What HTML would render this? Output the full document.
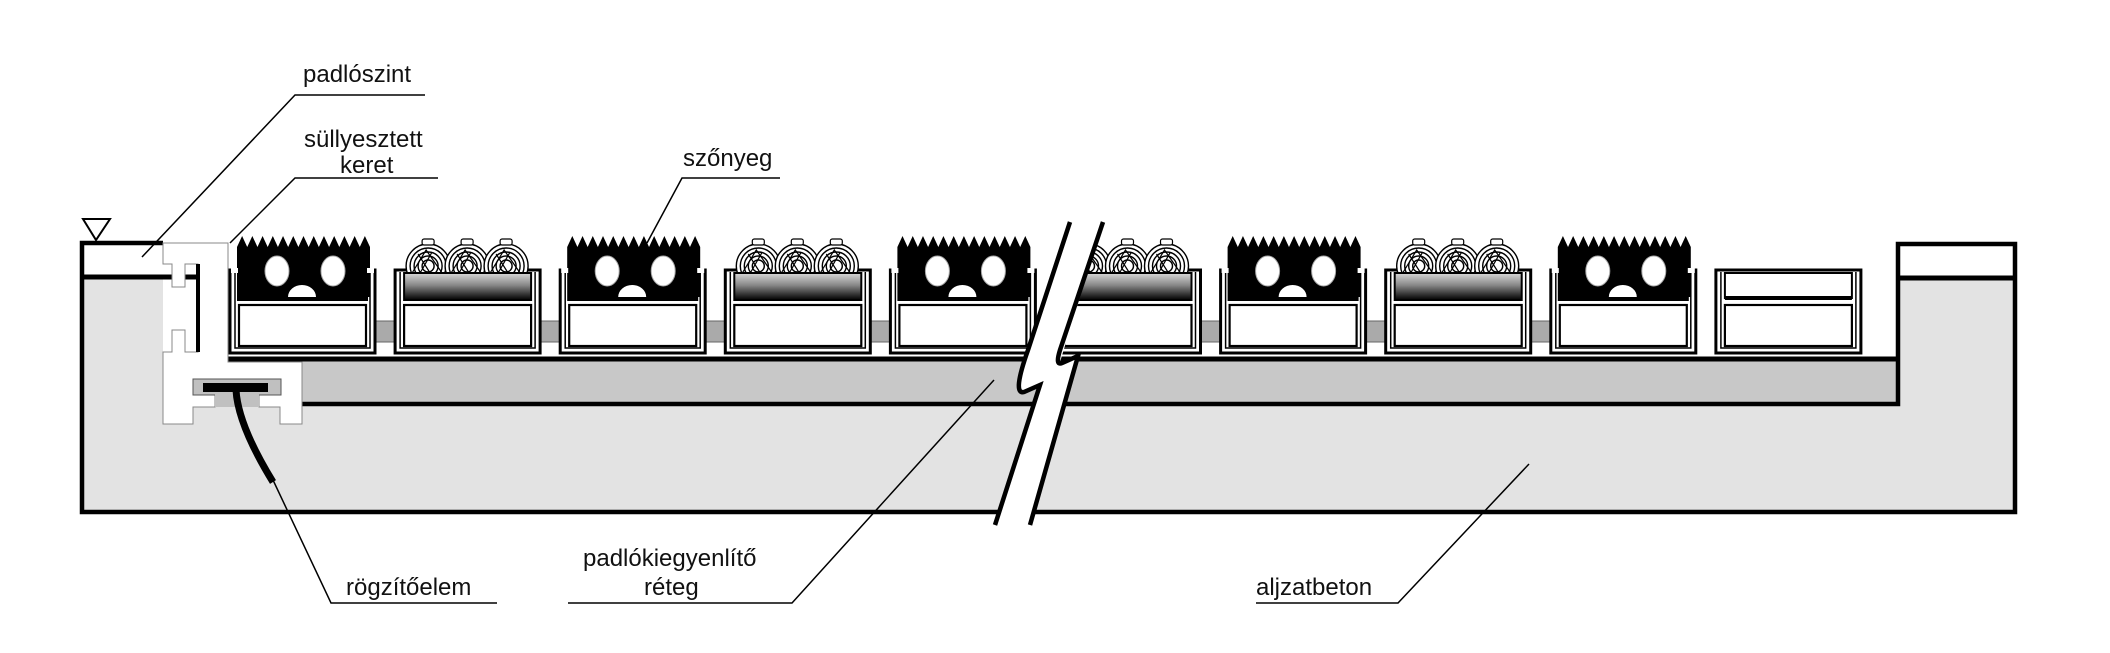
<!DOCTYPE html>
<html><head><meta charset="utf-8">
<style>
html,body{margin:0;padding:0;background:#fff;}
svg{display:block;}
text{font-family:"Liberation Sans",Arial,sans-serif;font-size:24px;fill:#111;}
</style></head>
<body>
<svg id="s" width="2110" height="653" viewBox="0 0 2110 653" xmlns="http://www.w3.org/2000/svg">
<defs>
<linearGradient id="tg" x1="0" y1="0" x2="0" y2="1">
<stop offset="0" stop-color="#d8d8d8"/><stop offset="0.45" stop-color="#888"/><stop offset="1" stop-color="#000"/>
</linearGradient>
</defs>
<path d="M82,243 H163 V360 H1898 V244 H2015 V512 H82 Z" fill="#e3e3e3"/>
<rect x="82" y="243" width="81" height="34" fill="#fff"/>
<rect x="1898" y="244" width="117" height="34" fill="#fff"/>
<rect x="228" y="358" width="1670" height="46" fill="#c8c8c8"/>
<path d="M163,243 H82 V512 H2015 V244 H1898 V404 H215" fill="none" stroke="#000" stroke-width="4.5"/>
<line x1="82" y1="277" x2="198" y2="277" stroke="#000" stroke-width="5"/>
<line x1="1898" y1="278" x2="2015" y2="278" stroke="#000" stroke-width="5"/>
<line x1="228" y1="359" x2="1898" y2="359" stroke="#000" stroke-width="5"/>
<polygon points="83,219 110,219 96,240" fill="#fff" stroke="#000" stroke-width="2"/>
<polygon points="163,243 228,243 228,362 302,362 302,424 280,424 280,407 259,407 259,395 281,395 281,379 193,379 193,395 215,395 215,407 193,407 193,424 163,424 163,352 172,352 172,330 185,330 185,352 198,352 198,264 185,264 185,287 172,287 172,264 163,264" fill="#fff" stroke="#888" stroke-width="1"/>
<rect x="193" y="379" width="88" height="16" fill="#c0c0c0" stroke="#555" stroke-width="1"/>
<rect x="215" y="394" width="44" height="13" fill="#c0c0c0"/>
<line x1="198" y1="264" x2="198" y2="352" stroke="#000" stroke-width="4"/>
<rect x="203" y="383" width="65" height="9" fill="#000"/>
<path d="M236,390 Q238,425 273,482" fill="none" stroke="#000" stroke-width="7"/>
<rect x="372" y="321" width="1180" height="21" fill="#aaa" stroke="#666" stroke-width="1"/>
<g id="tiles"></g>
<path d="M1070,222 L1028,350 Q1014,392 1022,392 L1040,385 L995,525 L1030,525 L1078,356 L1060,362 L1103,222 Z" fill="#fff"/>
<path d="M1070,222 L1028,350 Q1012,395 1024,392 L1040,385 L995,525" fill="none" stroke="#000" stroke-width="4.5"/>
<path d="M1103,222 L1060,350 Q1055,366 1062,363 L1078,356 L1030,525" fill="none" stroke="#000" stroke-width="4.5"/>
<g stroke="#000" stroke-width="1.5" fill="none">
<polyline points="142,257 295,95 425,95"/>
<polyline points="230,243 295,178 438,178"/>
<polyline points="647,243 682,178 780,178"/>
<polyline points="273,480 331,603 497,603"/>
<polyline points="994,380 792,603 568,603"/>
<polyline points="1529,464 1398,603 1256,603"/>
</g>
<text x="303" y="82">padlószint</text>
<text x="304" y="147">süllyesztett</text>
<text x="340" y="173">keret</text>
<text x="683" y="166">szőnyeg</text>
<text x="346" y="595">rögzítőelem</text>
<text x="583" y="566">padlókiegyenlítő</text>
<text x="644" y="595">réteg</text>
<text x="1256" y="595">aljzatbeton</text>
</svg>
<script>
var g=document.getElementById('tiles'),h='';
var types='BTBTBTBTBE';
for(var i=0;i<10;i++){
 var x=230+i*165.1,w=145,t=types[i];
 h+='<rect x="'+x+'" y="270" width="'+w+'" height="83" fill="#fff" stroke="#000" stroke-width="3"/>';
 h+='<path d="M'+(x+5)+',272 V348 H'+(x+w-5)+' V272" fill="none" stroke="#000" stroke-width="1.5"/>';
 h+='<rect x="'+(x+9)+'" y="305" width="'+(w-18)+'" height="41" fill="#fff" stroke="#000" stroke-width="2.2"/>';
 if(t=='B'){
  var bx=x+7,bw=w-12;
  var p='M'+bx+',297 V247';
  var n=13,tw=bw/n;
  for(var k=0;k<n;k++){p+=' L'+(bx+k*tw+tw/2)+',236 L'+(bx+(k+1)*tw)+',247';}
  p+=' V297 Z';
  h+='<path d="'+p+'" fill="#000"/>';
  h+='<ellipse cx="'+(x+47)+'" cy="271" rx="12" ry="15" fill="#fff" stroke="#aaa"/>';
  h+='<ellipse cx="'+(x+103)+'" cy="271" rx="12" ry="15" fill="#fff" stroke="#aaa"/>';
  h+='<path d="M'+(x+58)+',297 A14,12 0 0 1 '+(x+86)+',297 Z" fill="#fff"/>';
  h+='<rect x="'+(x+1)+'" y="268" width="7" height="5" fill="#fff"/><rect x="'+(x+w-8)+'" y="268" width="7" height="5" fill="#fff"/>';
  h+='<rect x="'+(x+7)+'" y="297" width="'+(w-14)+'" height="4" fill="#000"/>';
 } else if(t=='T'){
  for(var k=0;k<3;k++){
   var cx=x+33+k*39;
   for(var r=22;r>=6;r-=4){
    h+='<circle cx="'+cx+'" cy="266" r="'+r+'" fill="'+(r==22?'#fff':'none')+'" stroke="#000" stroke-width="1.4"/>';
   }
   h+='<path d="M'+(cx-16)+',273 L'+(cx-2)+',250 L'+(cx+14)+',273 M'+(cx-8)+',273 L'+(cx+4)+',252 M'+(cx+2)+',273 L'+(cx-10)+',254" stroke="#000" stroke-width="1.2" fill="none"/>';
   h+='<rect x="'+(cx-6)+'" y="239" width="12" height="6" rx="2" fill="#fff" stroke="#000" stroke-width="1.2"/>';
  }
  h+='<rect x="'+(x+9)+'" y="273" width="'+(w-18)+'" height="27" fill="url(#tg)" stroke="#000" stroke-width="2"/>';
 } else {
  h+='<rect x="'+(x+9)+'" y="273" width="'+(w-18)+'" height="25" fill="#fff" stroke="#000" stroke-width="2"/>';
  h+='<line x1="'+(x+9)+'" y1="298" x2="'+(x+w-9)+'" y2="298" stroke="#000" stroke-width="4"/>';
 }
}
g.innerHTML=h;
</script>
</body></html>
